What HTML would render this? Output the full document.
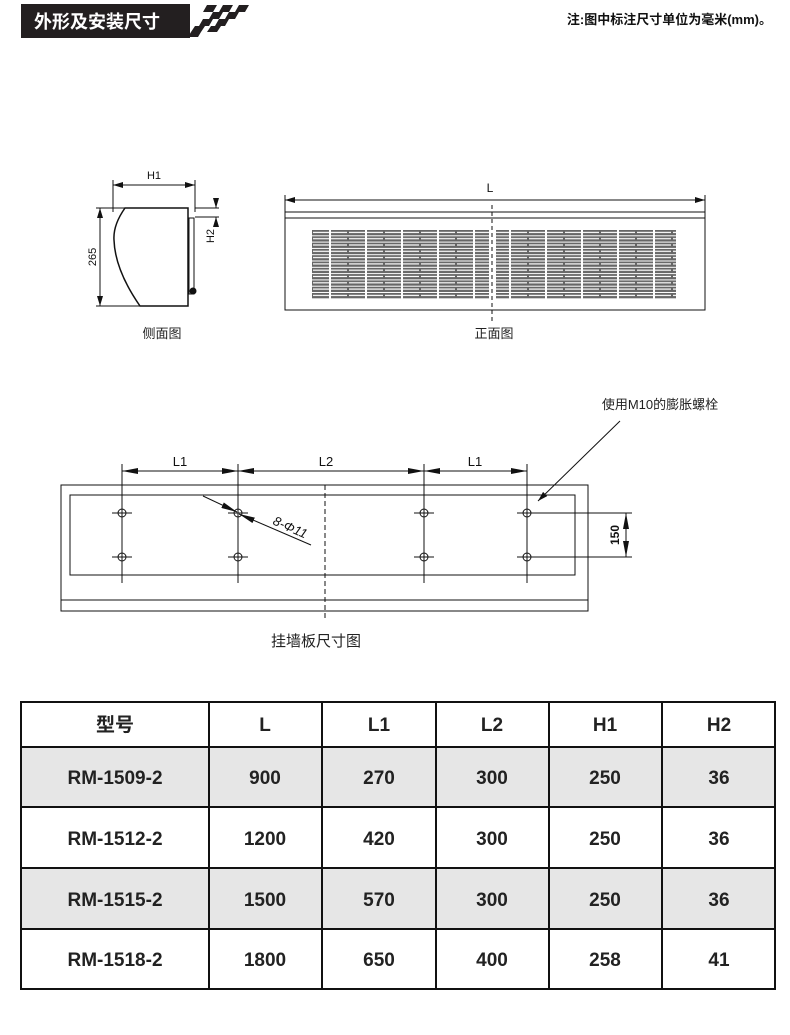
<!DOCTYPE html>
<html><head><meta charset="utf-8"><style>
body{margin:0;background:#fff;width:790px;height:1030px;overflow:hidden;font-family:"Liberation Sans","Noto Sans CJK SC",sans-serif}
</style></head><body>
<svg width="790" height="1030" viewBox="0 0 790 1030" xmlns="http://www.w3.org/2000/svg" font-family="Liberation Sans, Noto Sans CJK SC, sans-serif">
<defs>
<marker id="a" viewBox="0 0 10 6" refX="10" refY="3" markerWidth="10" markerHeight="6" orient="auto-start-reverse" markerUnits="userSpaceOnUse"><path d="M0,0L10,3L0,6z" fill="#111"/></marker>
<marker id="b" viewBox="0 0 16 6" refX="16" refY="3" markerWidth="16" markerHeight="6" orient="auto-start-reverse" markerUnits="userSpaceOnUse"><path d="M0,0L16,3L0,6z" fill="#111"/></marker>
<pattern id="g" x="312" y="230" width="36" height="6.3" patternUnits="userSpaceOnUse">
<rect x="0" y="0" width="36" height="5.3" fill="#666"/><rect x="1" y="1.8" width="34" height="1.2" fill="#fff"/><rect x="17" y="0" width="2" height="5.3" fill="#fff"/></pattern>
</defs>
<!-- header -->
<rect x="21" y="4" width="169" height="34" fill="#231f20"/>
<text x="34" y="28" fill="#fff" font-size="18" font-weight="bold">外形及安装尺寸</text>
<g fill="#231f20">
<path d="M207 5h10l-4 7h-10zM223 5h10l-4 7h-10zM239 5h10l-4 7h-10z"/>
<path d="M213 12h10l-4 7h-10zM229 12h10l-4 7h-10z"/>
<path d="M203 19h10l-4 7h-10zM219 19h10l-4 7h-10z"/>
<path d="M195 26h10l-4 6h-10zM211 26h10l-4 6h-10z"/>
<path d="M191 32h10l-3 5h-10z"/>
</g>
<text x="772" y="24" text-anchor="end" font-size="13" font-weight="bold" fill="#111">注:图中标注尺寸单位为毫米(mm)。</text>

<!-- side view -->
<g stroke="#111" fill="none" stroke-width="1">
<line x1="113" y1="180" x2="113" y2="212"/><line x1="195" y1="180" x2="195" y2="212"/>
<line x1="113" y1="185" x2="195" y2="185" marker-start="url(#a)" marker-end="url(#a)"/>
<line x1="96" y1="208" x2="125" y2="208"/><line x1="96" y1="306" x2="140" y2="306"/>
<line x1="100" y1="208" x2="100" y2="306" marker-start="url(#a)" marker-end="url(#a)"/>
<path d="M125 208L188 208L188 306L140 306Q115 270 114 240Q113 225 125 208Z" stroke-width="1.5"/>
<rect x="189" y="218" width="5" height="76"/>
<circle cx="193" cy="291" r="3" fill="#111"/>
<line x1="195" y1="208" x2="219" y2="208"/><line x1="195" y1="217" x2="219" y2="217"/>
<line x1="216" y1="200" x2="216" y2="208" marker-end="url(#a)"/><line x1="216" y1="225" x2="216" y2="217" marker-end="url(#a)"/>
</g>
<text x="154" y="179" text-anchor="middle" font-size="11" fill="#111">H1</text>
<text transform="translate(96,257) rotate(-90)" text-anchor="middle" font-size="11" fill="#111">265</text>
<text transform="translate(214,236) rotate(-90)" text-anchor="middle" font-size="11" fill="#111">H2</text>
<text x="162" y="338" text-anchor="middle" font-size="13" fill="#222">侧面图</text>

<!-- front view -->
<g stroke="#111" fill="none">
<line x1="285" y1="200" x2="705" y2="200" marker-start="url(#a)" marker-end="url(#a)"/>
<line x1="285" y1="195" x2="285" y2="212"/><line x1="705" y1="195" x2="705" y2="212"/>
<rect x="285" y="212" width="420" height="98"/>
<line x1="285" y1="218" x2="705" y2="218"/>
</g>
<rect x="312" y="230" width="177" height="69" fill="url(#g)"/>
<rect x="496" y="230" width="180" height="69" fill="url(#g)"/>
<line x1="492" y1="205" x2="492" y2="322" stroke="#111" stroke-dasharray="4,3"/>
<text x="490" y="192" text-anchor="middle" font-size="12" fill="#111">L</text>
<text x="494" y="338" text-anchor="middle" font-size="13" fill="#222">正面图</text>

<!-- wall plate -->
<text x="660" y="409" text-anchor="middle" font-size="13" fill="#222">使用M10的膨胀螺栓</text>
<line x1="620" y1="421" x2="538" y2="501" stroke="#111" marker-end="url(#a)"/>
<g stroke="#111" fill="none">
<rect x="61" y="485" width="527" height="126"/>
<rect x="70" y="495" width="505" height="80"/>
<line x1="61" y1="600" x2="588" y2="600"/>
<line x1="122" y1="464" x2="122" y2="583"/><line x1="238" y1="464" x2="238" y2="583"/>
<line x1="424" y1="464" x2="424" y2="583"/><line x1="527" y1="464" x2="527" y2="583"/>
<line x1="122" y1="471" x2="238" y2="471" marker-start="url(#b)" marker-end="url(#b)"/>
<line x1="238" y1="471" x2="424" y2="471" marker-start="url(#b)" marker-end="url(#b)"/>
<line x1="424" y1="471" x2="527" y2="471" marker-start="url(#b)" marker-end="url(#b)"/>
<line x1="325" y1="485" x2="325" y2="620" stroke-dasharray="5,3"/>
<g>
<circle cx="122" cy="513" r="4"/><circle cx="238" cy="513" r="4"/><circle cx="424" cy="513" r="4"/><circle cx="527" cy="513" r="4"/>
<circle cx="122" cy="557" r="4"/><circle cx="238" cy="557" r="4"/><circle cx="424" cy="557" r="4"/><circle cx="527" cy="557" r="4"/>
<path d="M112 513h20M228 513h20M414 513h20M517 513h20M112 557h20M228 557h20M414 557h20M517 557h20"/>
</g>
<line x1="527" y1="513" x2="632" y2="513"/><line x1="527" y1="557" x2="632" y2="557"/>
<line x1="626" y1="513" x2="626" y2="557" marker-start="url(#b)" marker-end="url(#b)"/>
<line x1="203" y1="496" x2="237" y2="512" marker-end="url(#b)"/>
<line x1="311" y1="545" x2="239" y2="514" marker-end="url(#b)"/>
</g>
<text x="180" y="466" text-anchor="middle" font-size="13" fill="#111">L1</text>
<text x="326" y="466" text-anchor="middle" font-size="13" fill="#111">L2</text>
<text x="475" y="466" text-anchor="middle" font-size="13" fill="#111">L1</text>
<text transform="translate(272,524) rotate(24)" font-size="13" font-style="italic" fill="#111">8-Φ11</text>
<text transform="translate(619,535) rotate(-90)" text-anchor="middle" font-size="12" font-weight="bold" fill="#111">150</text>
<text x="316" y="646" text-anchor="middle" font-size="15" fill="#222">挂墙板尺寸图</text>

<!-- table -->
<rect x="21" y="747" width="754" height="60" fill="#e6e6e6"/>
<rect x="21" y="868" width="754" height="61" fill="#e6e6e6"/>
<g stroke="#111" stroke-width="2" fill="none">
<rect x="21" y="702" width="754" height="287"/>
<path d="M21 747H775M21 807H775M21 868H775M21 929H775M209 702V989M322 702V989M436 702V989M549 702V989M662 702V989"/>
</g>
<g font-size="19" font-weight="bold" fill="#222" text-anchor="middle">
<text x="115" y="731">型号</text><text x="265" y="731">L</text><text x="379" y="731">L1</text><text x="492" y="731">L2</text><text x="605" y="731">H1</text><text x="719" y="731">H2</text>
<text x="115" y="784">RM-1509-2</text><text x="265" y="784">900</text><text x="379" y="784">270</text><text x="492" y="784">300</text><text x="605" y="784">250</text><text x="719" y="784">36</text>
<text x="115" y="845">RM-1512-2</text><text x="265" y="845">1200</text><text x="379" y="845">420</text><text x="492" y="845">300</text><text x="605" y="845">250</text><text x="719" y="845">36</text>
<text x="115" y="906">RM-1515-2</text><text x="265" y="906">1500</text><text x="379" y="906">570</text><text x="492" y="906">300</text><text x="605" y="906">250</text><text x="719" y="906">36</text>
<text x="115" y="966">RM-1518-2</text><text x="265" y="966">1800</text><text x="379" y="966">650</text><text x="492" y="966">400</text><text x="605" y="966">258</text><text x="719" y="966">41</text>
</g>
</svg>
</body></html>
